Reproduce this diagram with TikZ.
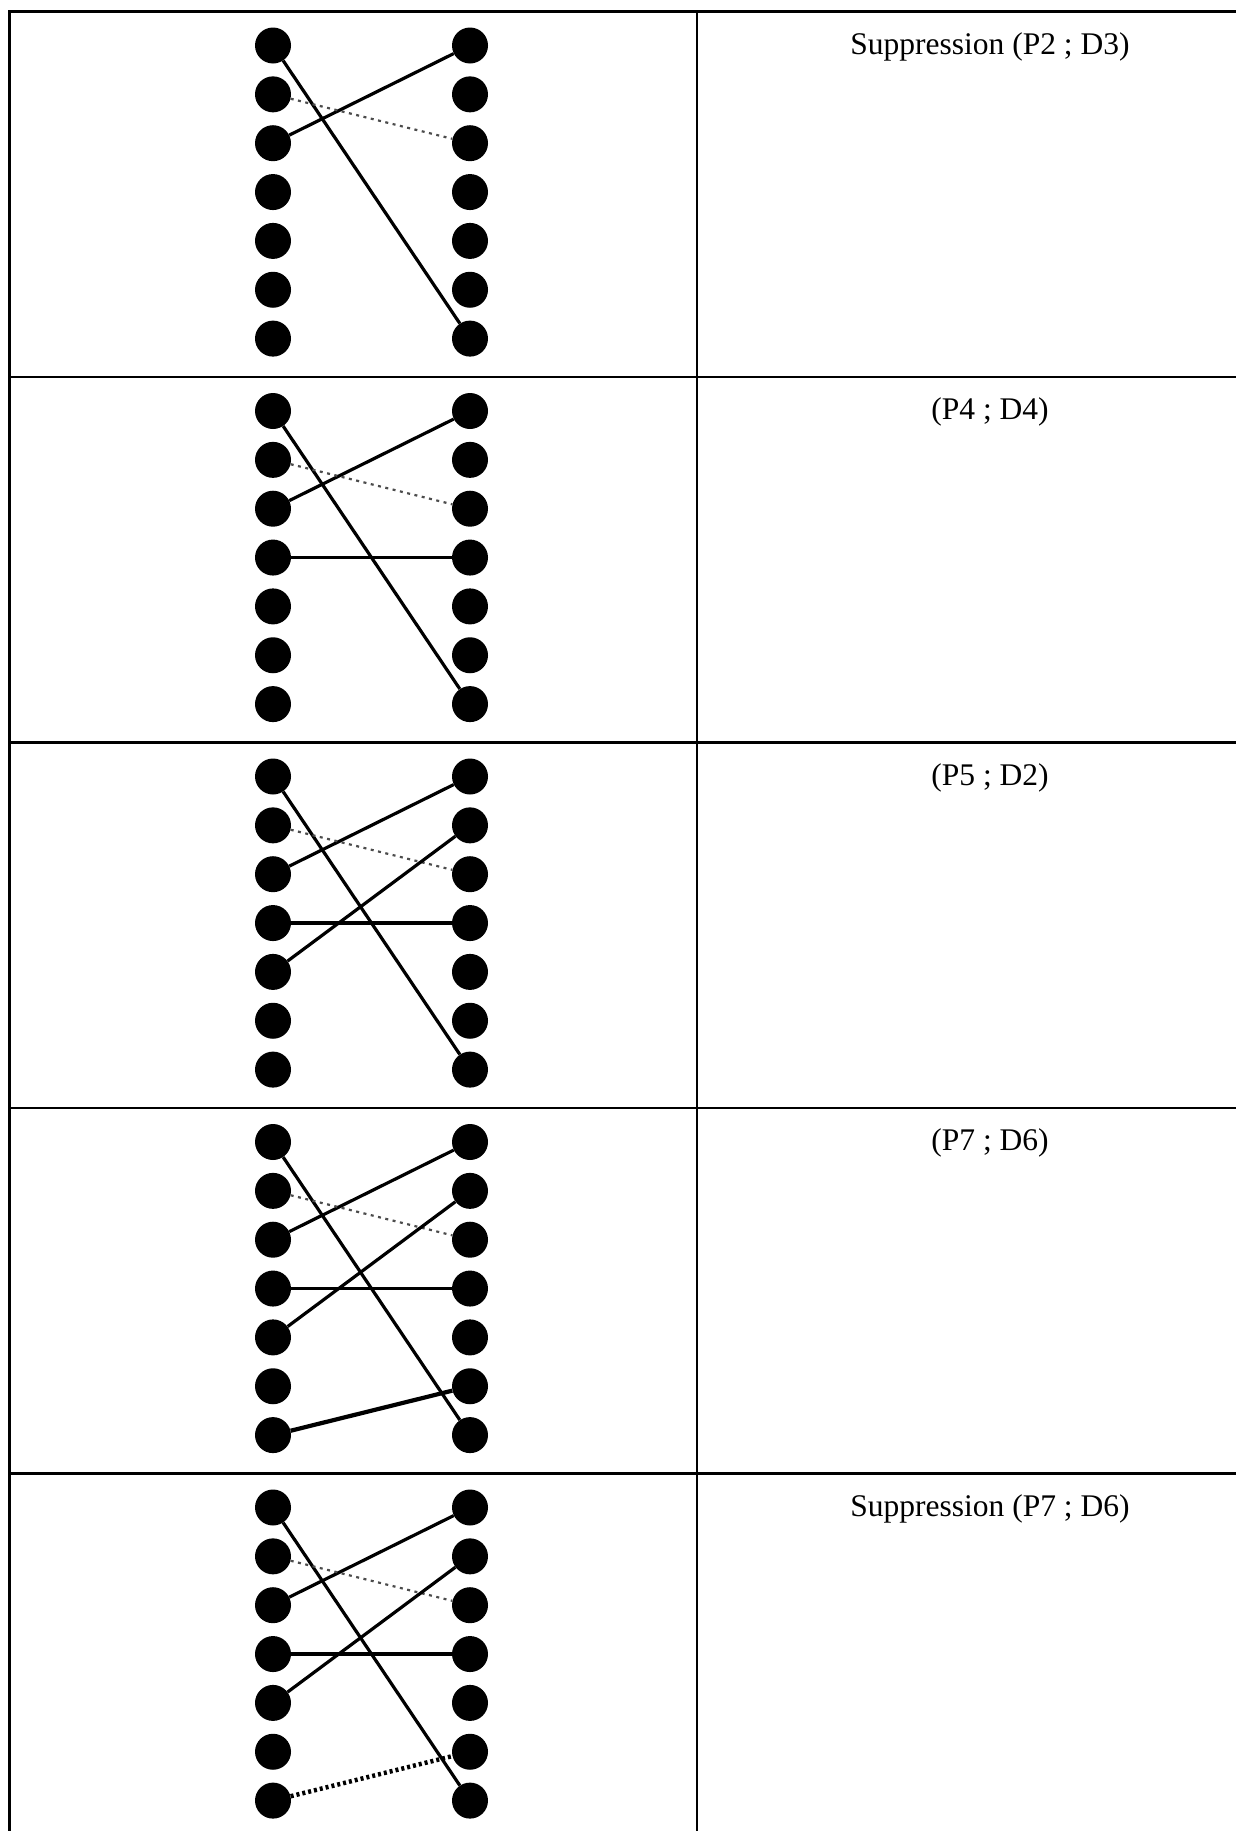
\documentclass[tikz,border=0pt]{standalone}
\usepackage{fontspec}
\setmainfont{Liberation Serif}
\begin{document}
\begin{tikzpicture}[x=1pt,y=-1pt,
  dotnode/.style={circle,fill=black,inner sep=0pt,minimum size=36pt},
  rule/.style={line width=2.6pt},
  link/.style={line width=3.2pt,black},
  thicklink/.style={line width=4.2pt,black},
  greydots/.style={line width=2.2pt,black!70,dash pattern=on 3pt off 4.5pt},
  blackdots/.style={line width=4.5pt,black,dash pattern=on 3pt off 3pt},
  lbl/.style={font=\fontsize{31.5}{38}\selectfont,anchor=base,inner sep=0pt}]
\useasboundingbox (0,0) rectangle (1236,1831);
% table rules
\foreach \i in {1,...,5}{
  \pgfmathsetmacro{\t}{11.3+365.5*(\i-1)}
  \draw[rule] (8.4,\t) -- (1236,\t);
}
\draw[rule] (9.7,10) -- (9.7,1831);
\draw[rule] (697,10) -- (697,1831);
% dots
\foreach \i in {1,...,5}{
  \pgfmathsetmacro{\t}{11.3+365.5*(\i-1)}
  \foreach \k in {1,...,7}{
    \pgfmathsetmacro{\yy}{\t+34.2+48.85*(\k-1)}
    \node[dotnode] (L\i-\k) at (273,\yy) {};
    \node[dotnode] (R\i-\k) at (470,\yy) {};
  }
}
% labels
\node[lbl] (T1) at (990,54.3) {Suppression (P2 ; D3)};
\node[lbl] (T2) at (990,419.8) {(P4 ; D4)};
\node[lbl] (T3) at (990,785.3) {(P5 ; D2)};
\node[lbl] (T4) at (990,1150.8) {(P7 ; D6)};
\node[lbl] (T5) at (990,1516.3) {Suppression (P7 ; D6)};
% connectors
\foreach \i in {1,...,5}{
  \draw[link] (L\i-1) -- (R\i-7);
  \draw[link] (L\i-3) -- (R\i-1);
  \draw[greydots] (L\i-2) -- (R\i-3);
}
\foreach \i in {2,...,5}{ \draw[link] (L\i-4) -- (R\i-4); }
\foreach \i in {3,4,5}{ \draw[link] (L\i-5) -- (R\i-2); }
\draw[thicklink] (L4-7) -- (R4-6);
\draw[blackdots] (L5-7) -- (R5-6);
\end{tikzpicture}
\end{document}
